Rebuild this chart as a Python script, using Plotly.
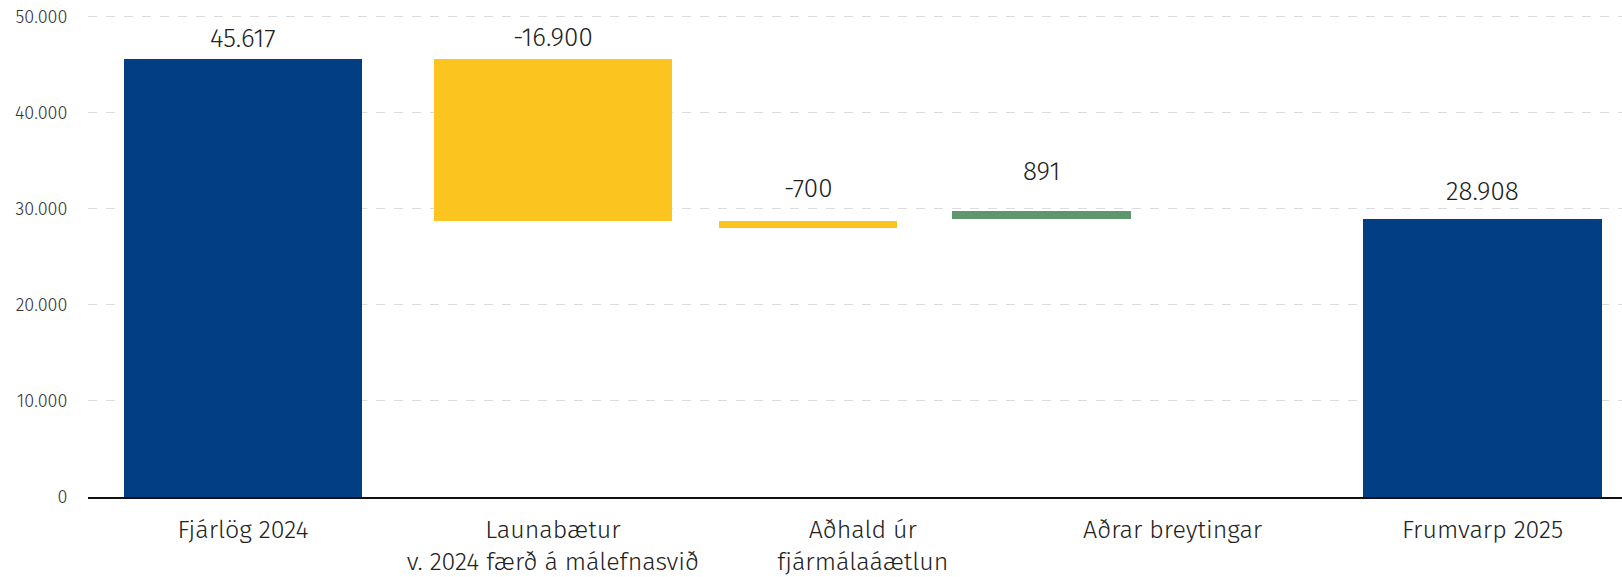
import plotly.graph_objects as go

# ---- data ----
categories = ["Fjárlög 2024", "Launabætur<br>v. 2024 færð á málefnasvið",
              "Aðhald úr<br>fjármálaáætlun", "Aðrar breytingar", "Frumvarp 2025"]
values = [45617, -16900, -700, 891, 28908]
labels = ["45.617", "-16.900", "-700", "891", "28.908"]
# bar bottoms
bar_base = [0, 28717, 28017, 28908, 0]
y_ticks = [0, 10000, 20000, 30000, 40000, 50000]
y_tick_text = ["0", "10.000", "20.000", "30.000", "40.000", "50.000"]

# ---- style ----
colors = ["#023E84", "#FCC41E", "#FCC41E", "#5E976C", "#023E84"]
bar_widths = [0.77, 0.77, 0.577, 0.577, 0.77]
bar_offsets = [-0.385, -0.385, -0.465, -0.713, -0.385]
label_shift = [3, 4, 15, 22, 10]
FONT = "Fira Sans Light, Fira Sans, Roboto, sans-serif"

xs = list(range(len(categories)))
heights = [abs(v) for v in values]
bottoms = list(bar_base)
tops = [bottoms[i] + heights[i] for i in range(len(values))]

fig = go.Figure()
fig.add_trace(go.Bar(
    x=xs, y=heights, base=bottoms,
    width=bar_widths, offset=bar_offsets,
    marker=dict(color=colors, line=dict(width=0)),
    hoverinfo="skip", showlegend=False,
))

for i in xs:
    cx = i + bar_offsets[i] + bar_widths[i] / 2
    fig.add_annotation(
        x=cx, y=tops[i], text=labels[i], showarrow=False,
        xanchor="center", yanchor="bottom", yshift=label_shift[i],
        font=dict(family=FONT, size=26, color="#222222", weight=300),
    )

fig.update_layout(
    width=1622, height=577,
    margin=dict(l=88, r=0, t=15, b=80),
    paper_bgcolor="white", plot_bgcolor="white",
    font=dict(family=FONT, color="#333333", weight=300),
    bargap=0,
)
fig.update_xaxes(
    range=[-0.5, 4.45], tickmode="array", tickvals=xs, ticktext=categories,
    tickfont=dict(family=FONT, size=25, color="#222222", weight=300),
    showgrid=False, zeroline=False, showline=True, linecolor="#111111",
    linewidth=1.5, ticks="outside", ticklen=9, tickcolor="rgba(0,0,0,0)",
    automargin=False, fixedrange=True, ticklabeloverflow="allow",
)
fig.update_yaxes(
    range=[0, 50200], tickmode="array", tickvals=y_ticks, ticktext=y_tick_text,
    tickfont=dict(family=FONT, size=18, color="#333333", weight=300),
    showgrid=True, gridcolor="#dcdcdc", griddash="dash", gridwidth=1,
    zeroline=False, showline=False, ticks="outside", ticklen=16,
    tickcolor="rgba(0,0,0,0)", automargin=False, fixedrange=True,
    ticklabeloverflow="allow",
)

fig.write_html(
    "out.html",
    config={"displayModeBar": False, "staticPlot": True},
    post_script="document.body.style.margin='0';document.body.style.overflow='hidden';",
)
